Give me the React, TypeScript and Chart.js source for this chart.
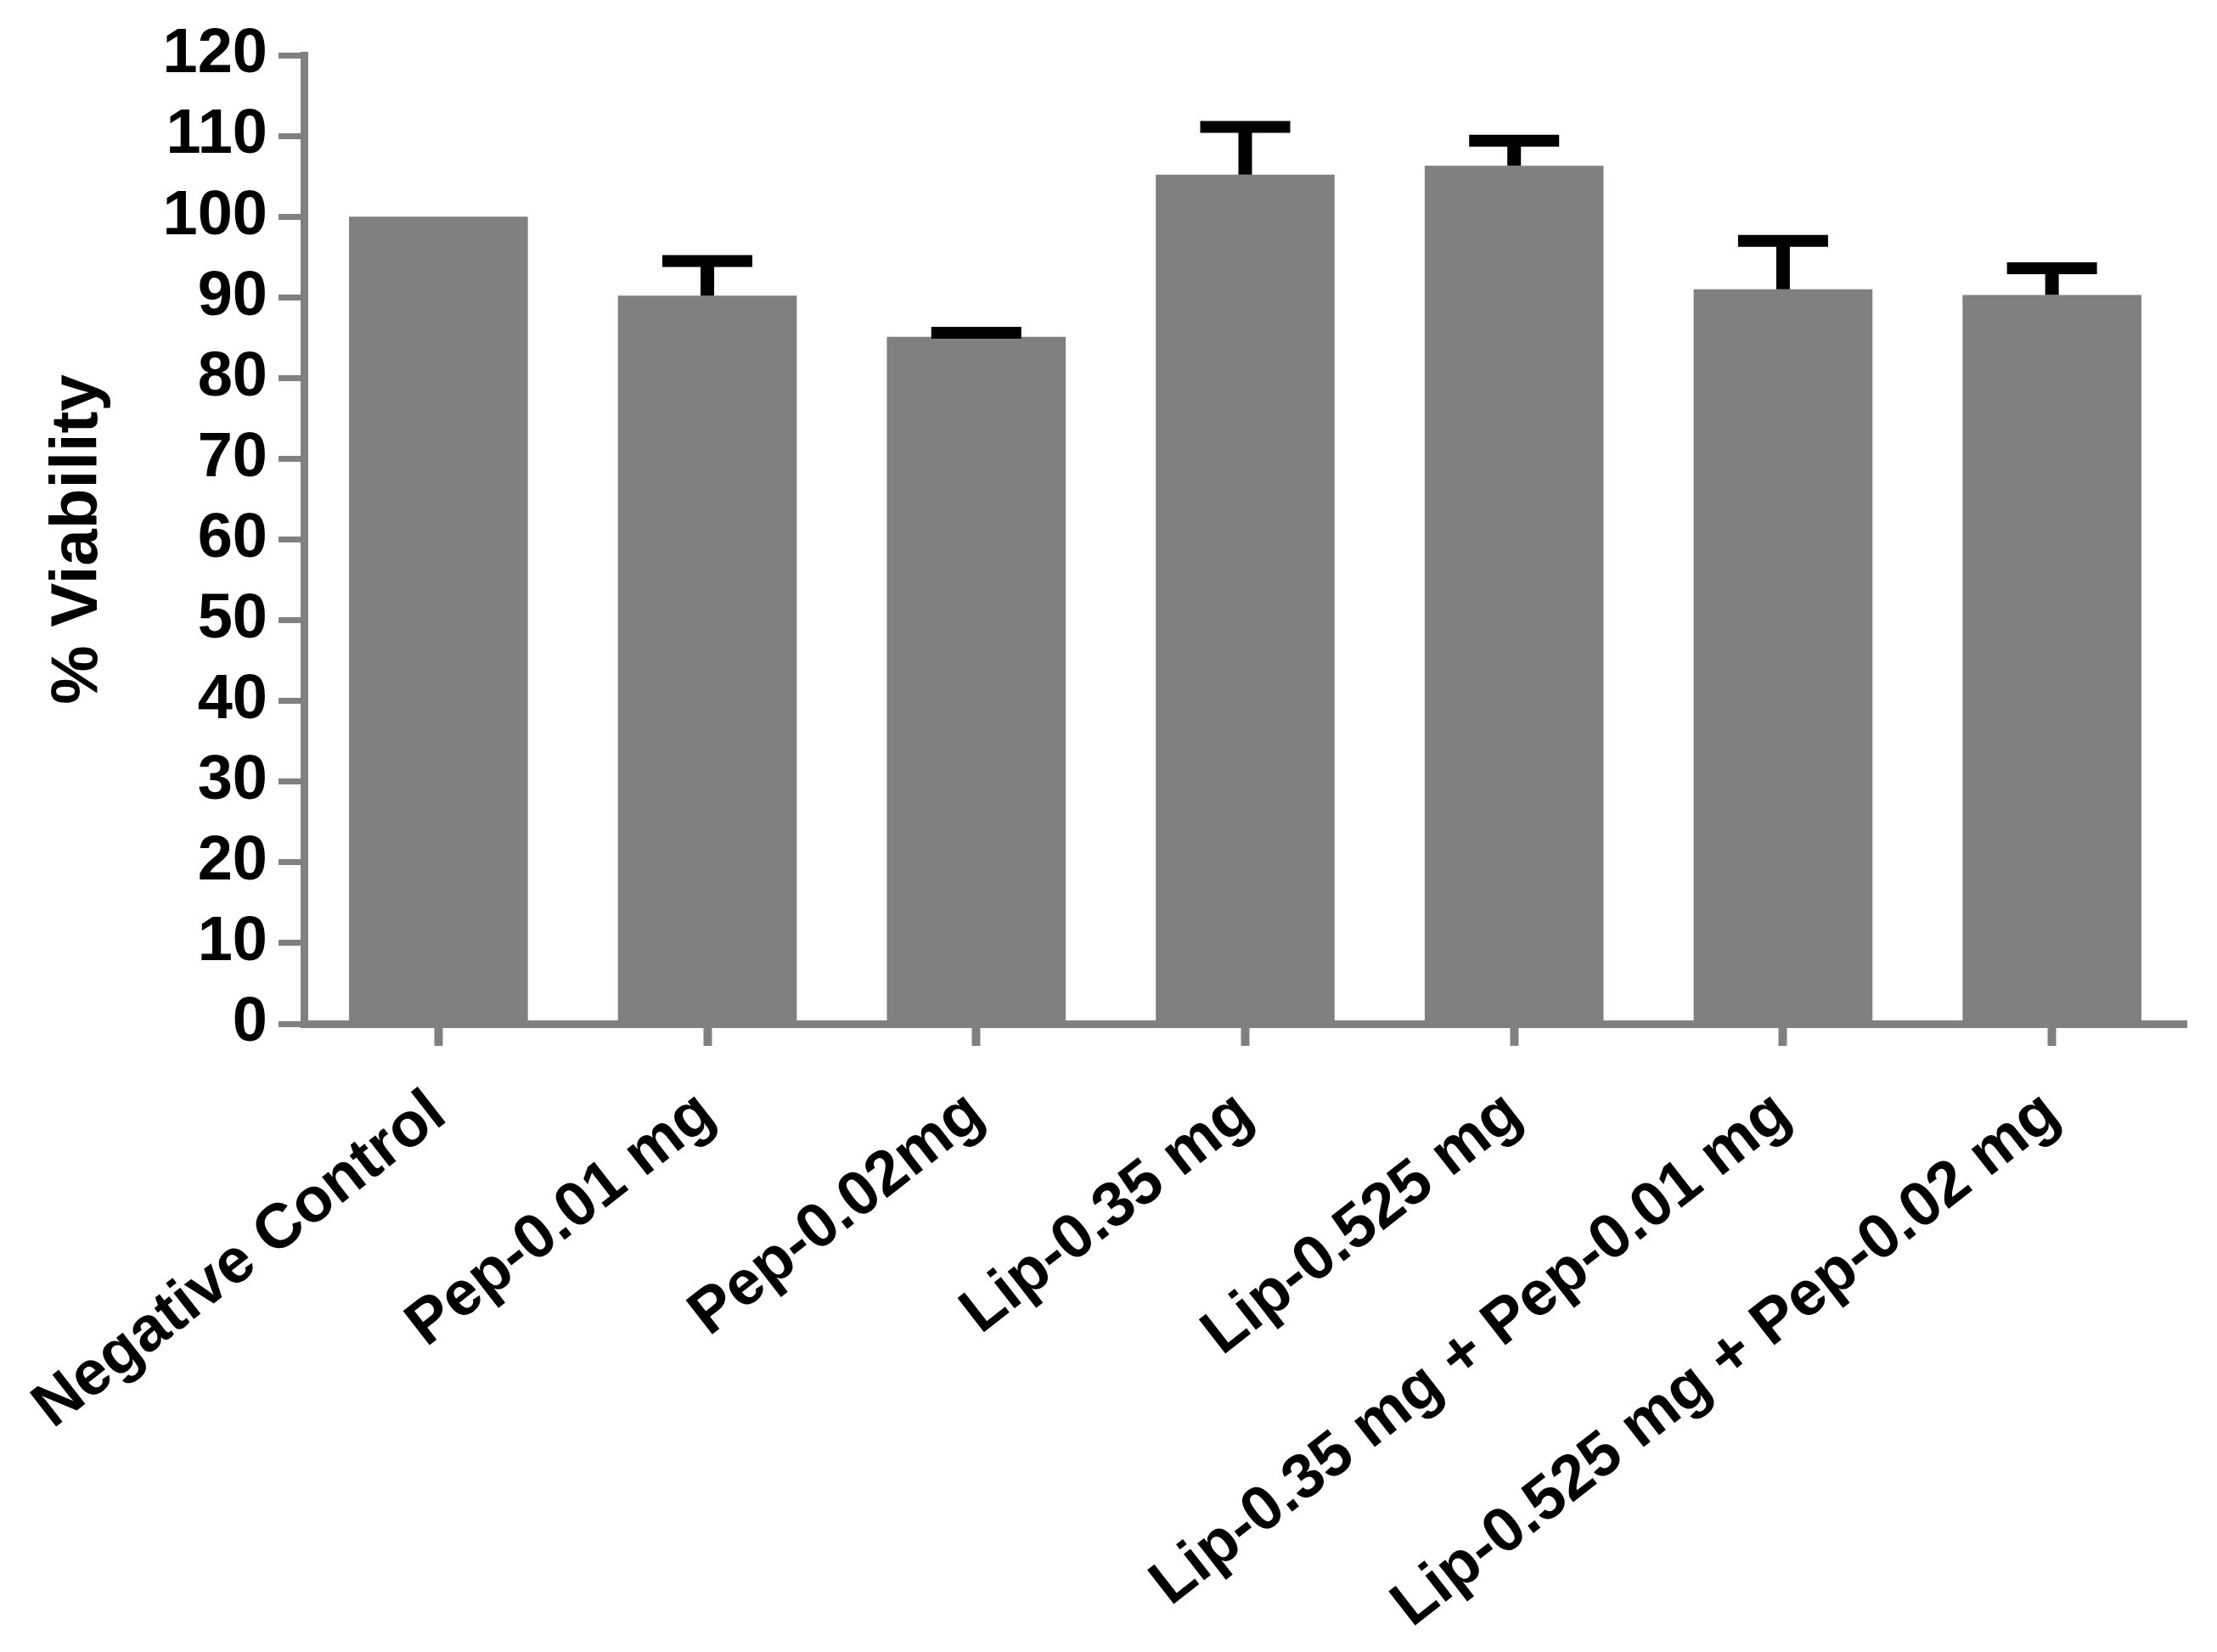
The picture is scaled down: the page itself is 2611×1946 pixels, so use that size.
import { useEffect, useRef } from "react";
import { Chart, registerables } from "chart.js";

Chart.register(...registerables);

const categories = [
  "Negative Control",
  "Pep-0.01 mg",
  "Pep-0.02mg",
  "Lip-0.35 mg",
  "Lip-0.525 mg",
  "Lip-0.35 mg + Pep-0.01 mg",
  "Lip-0.525 mg + Pep-0.02 mg",
];
const viability = [100, 90.2, 85.1, 105.2, 106.3, 91.0, 90.3];
const errorUpper = [0, 4.3, 0.5, 5.9, 3.1, 6.0, 3.3];
const yMin = 0;
const yMax = 120;
const yStep = 10;
const yTitle = "% Viability";

const FONT = "'Liberation Sans', Arial, sans-serif";
const GRAY = "#808080";

const errorBarPlugin = {
  id: "errorBars",
  afterDatasetsDraw(chart: any) {
    const ctx = chart.ctx;
    const xs = chart.scales.x;
    const ys = chart.scales.y;
    ctx.save();
    ctx.strokeStyle = "#000000";
    ctx.lineCap = "butt";
    viability.forEach((v, i) => {
      const e = errorUpper[i];
      if (!e) return;
      const x = xs.getPixelForValue(i);
      const yBar = ys.getPixelForValue(v);
      const yTop = ys.getPixelForValue(v + e);
      ctx.lineWidth = 16;
      ctx.beginPath();
      ctx.moveTo(x, yBar);
      ctx.lineTo(x, yTop);
      ctx.stroke();
      ctx.lineWidth = 14;
      ctx.beginPath();
      ctx.moveTo(x - 53, yTop);
      ctx.lineTo(x + 53, yTop);
      ctx.stroke();
    });
    ctx.restore();
  },
};

export default function App() {
  const canvasRef = useRef<HTMLCanvasElement | null>(null);

  useEffect(() => {
    if (!canvasRef.current) return;
    const chart = new Chart(canvasRef.current, {
      type: "bar",
      data: {
        labels: categories,
        datasets: [
          {
            data: viability,
            backgroundColor: GRAY,
            borderWidth: 0,
            barPercentage: 0.665,
            categoryPercentage: 1,
          },
        ],
      },
      plugins: [errorBarPlugin],
      options: {
        animation: false,
        responsive: true,
        maintainAspectRatio: false,
        devicePixelRatio: 1,
        layout: { padding: { top: 65, right: 36, bottom: 0, left: 0 } },
        plugins: {
          legend: { display: false },
          tooltip: { enabled: false },
          title: { display: false },
        },
        scales: {
          x: {
            type: "category",
            offset: true,
            grid: {
              offset: false,
              drawOnChartArea: false,
              drawTicks: true,
              tickLength: 26,
              tickWidth: 10,
              tickColor: GRAY,
            },
            border: { display: true, color: GRAY, width: 9 },
            ticks: {
              autoSkip: false,
              maxRotation: 38,
              minRotation: 38,
              padding: 36,
              color: "#000000",
              font: { family: FONT, size: 74, weight: "bold" },
            },
            afterFit(scale: any) {
              scale.height = 740;
              scale.paddingLeft = 0;
              scale.paddingRight = 0;
            },
          },
          y: {
            min: yMin,
            max: yMax,
            grid: {
              drawOnChartArea: false,
              drawTicks: true,
              tickLength: 30,
              tickWidth: 7,
              tickColor: GRAY,
            },
            border: { display: true, color: GRAY, width: 9 },
            ticks: {
              stepSize: yStep,
              padding: 13,
              color: "#000000",
              font: { family: FONT, size: 74, weight: "bold" },
            },
            title: {
              display: true,
              text: yTitle,
              color: "#000000",
              padding: { top: 46, bottom: 0 },
              font: { family: FONT, size: 78, weight: "bold" },
            },
            afterFit(scale: any) {
              scale.width = 358;
              scale.paddingTop = 0;
              scale.paddingBottom = 0;
            },
          },
        },
      },
    });
    return () => chart.destroy();
  }, []);

  return (
    <div
      style={{
        position: "absolute",
        left: 0,
        top: 0,
        width: 2611,
        height: 1946,
        background: "#ffffff",
      }}
    >
      <canvas ref={canvasRef} />
    </div>
  );
}
